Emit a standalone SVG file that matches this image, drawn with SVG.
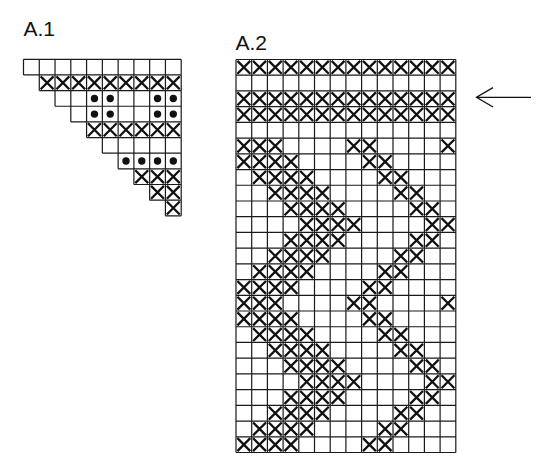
<svg xmlns="http://www.w3.org/2000/svg" xmlns:xlink="http://www.w3.org/1999/xlink" width="550" height="473" viewBox="0 0 550 473">
<style>
.lbl{font-family:"Liberation Sans",Arial,sans-serif;font-size:21px;fill:#111}
.grid{fill:none;stroke:#1a1a1a;stroke-width:1.2}
.xm{fill:none;stroke:#111;stroke-width:2.3}
.dot{fill:#111}
.arrow{fill:none;stroke:#111;stroke-width:1.3}
</style>
<defs>
<path id="x" class="xm" d="M1.4 1.4L14.3 14.3M14.3 1.4L1.4 14.3"/>
<g id="xrow">
<use xlink:href="#x" x="0"/><use xlink:href="#x" x="15.7"/><use xlink:href="#x" x="31.4"/><use xlink:href="#x" x="47.1"/><use xlink:href="#x" x="62.8"/><use xlink:href="#x" x="78.5"/><use xlink:href="#x" x="94.2"/><use xlink:href="#x" x="109.9"/><use xlink:href="#x" x="125.6"/><use xlink:href="#x" x="141.3"/><use xlink:href="#x" x="157"/><use xlink:href="#x" x="172.7"/><use xlink:href="#x" x="188.4"/><use xlink:href="#x" x="204.1"/>
</g>
<g id="p">
<use xlink:href="#x" x="0"/><use xlink:href="#x" x="15.7"/><use xlink:href="#x" x="31.4"/><use xlink:href="#x" x="47.1"/><use xlink:href="#x" x="125.6"/><use xlink:href="#x" x="141.3"/>
</g>
</defs>
<rect width="550" height="473" fill="#fff"/>

<g id="a1">
<text class="lbl" x="23.5" y="36">A.1</text>
<path class="grid" d="M23.5 59.3H181.2M23.5 74.95H181.2M39.27 90.6H181.2M55.04 106.25H181.2M70.81 121.9H181.2M86.58 137.55H181.2M102.35 153.2H181.2M118.12 168.85H181.2M133.89 184.5H181.2M149.66 200.15H181.2M165.43 215.8H181.2
M23.5 59.3V74.95M39.27 59.3V90.6M55.04 59.3V106.25M70.81 59.3V121.9M86.58 59.3V137.55M102.35 59.3V153.2M118.12 59.3V168.85M133.89 59.3V184.5M149.66 59.3V200.15M165.43 59.3V215.8M181.2 59.3V215.8"/>
<g id="a1-x">
<use xlink:href="#x" x="39.27" y="74.95"/><use xlink:href="#x" x="55.04" y="74.95"/><use xlink:href="#x" x="70.81" y="74.95"/><use xlink:href="#x" x="86.58" y="74.95"/><use xlink:href="#x" x="102.35" y="74.95"/><use xlink:href="#x" x="118.12" y="74.95"/><use xlink:href="#x" x="133.89" y="74.95"/><use xlink:href="#x" x="149.66" y="74.95"/><use xlink:href="#x" x="165.43" y="74.95"/>
<use xlink:href="#x" x="86.58" y="121.9"/><use xlink:href="#x" x="102.35" y="121.9"/><use xlink:href="#x" x="118.12" y="121.9"/><use xlink:href="#x" x="133.89" y="121.9"/><use xlink:href="#x" x="149.66" y="121.9"/><use xlink:href="#x" x="165.43" y="121.9"/>
<use xlink:href="#x" x="133.89" y="168.85"/><use xlink:href="#x" x="149.66" y="168.85"/><use xlink:href="#x" x="165.43" y="168.85"/>
<use xlink:href="#x" x="149.66" y="184.5"/><use xlink:href="#x" x="165.43" y="184.5"/>
<use xlink:href="#x" x="165.43" y="200.15"/>
</g>
<g id="a1-dots">
<circle class="dot" cx="94.46" cy="98.43" r="3.7"/><circle class="dot" cx="110.23" cy="98.43" r="3.7"/><circle class="dot" cx="157.54" cy="98.43" r="3.7"/><circle class="dot" cx="173.31" cy="98.43" r="3.7"/>
<circle class="dot" cx="94.46" cy="114.08" r="3.7"/><circle class="dot" cx="110.23" cy="114.08" r="3.7"/><circle class="dot" cx="157.54" cy="114.08" r="3.7"/><circle class="dot" cx="173.31" cy="114.08" r="3.7"/>
<circle class="dot" cx="126" cy="161.03" r="3.7"/><circle class="dot" cx="141.77" cy="161.03" r="3.7"/><circle class="dot" cx="157.54" cy="161.03" r="3.7"/><circle class="dot" cx="173.31" cy="161.03" r="3.7"/>
</g>
</g>

<g id="a2">
<text class="lbl" x="235.5" y="49.5">A.2</text>
<path class="grid" d="M236 59.5V452.5M251.7 59.5V452.5M267.4 59.5V452.5M283.1 59.5V452.5M298.8 59.5V452.5M314.5 59.5V452.5M330.2 59.5V452.5M345.9 59.5V452.5M361.6 59.5V452.5M377.3 59.5V452.5M393 59.5V452.5M408.7 59.5V452.5M424.4 59.5V452.5M440.1 59.5V452.5M455.8 59.5V452.5
M236 59.5H455.8M236 75.22H455.8M236 90.94H455.8M236 106.66H455.8M236 122.38H455.8M236 138.1H455.8M236 153.82H455.8M236 169.54H455.8M236 185.26H455.8M236 200.98H455.8M236 216.7H455.8M236 232.42H455.8M236 248.14H455.8M236 263.86H455.8M236 279.58H455.8M236 295.3H455.8M236 311.02H455.8M236 326.74H455.8M236 342.46H455.8M236 358.18H455.8M236 373.9H455.8M236 389.62H455.8M236 405.34H455.8M236 421.06H455.8M236 436.78H455.8M236 452.5H455.8"/>
<g id="a2-x">
<use xlink:href="#xrow" x="236" y="59.5"/>
<use xlink:href="#xrow" x="236" y="90.94"/>
<use xlink:href="#xrow" x="236" y="106.66"/>
<use xlink:href="#x" x="236" y="138.1"/><use xlink:href="#x" x="251.7" y="138.1"/><use xlink:href="#x" x="267.4" y="138.1"/><use xlink:href="#x" x="345.9" y="138.1"/><use xlink:href="#x" x="361.6" y="138.1"/><use xlink:href="#x" x="440.1" y="138.1"/>
<use xlink:href="#p" x="236" y="153.82"/>
<use xlink:href="#p" x="251.7" y="169.54"/>
<use xlink:href="#p" x="267.4" y="185.26"/>
<use xlink:href="#p" x="283.1" y="200.98"/>
<use xlink:href="#p" x="298.8" y="216.7"/>
<use xlink:href="#p" x="283.1" y="232.42"/>
<use xlink:href="#p" x="267.4" y="248.14"/>
<use xlink:href="#p" x="251.7" y="263.86"/>
<use xlink:href="#p" x="236" y="279.58"/>
<use xlink:href="#x" x="236" y="295.3"/><use xlink:href="#x" x="251.7" y="295.3"/><use xlink:href="#x" x="267.4" y="295.3"/><use xlink:href="#x" x="345.9" y="295.3"/><use xlink:href="#x" x="361.6" y="295.3"/><use xlink:href="#x" x="440.1" y="295.3"/>
<use xlink:href="#p" x="236" y="311.02"/>
<use xlink:href="#p" x="251.7" y="326.74"/>
<use xlink:href="#p" x="267.4" y="342.46"/>
<use xlink:href="#p" x="283.1" y="358.18"/>
<use xlink:href="#p" x="298.8" y="373.9"/>
<use xlink:href="#p" x="283.1" y="389.62"/>
<use xlink:href="#p" x="267.4" y="405.34"/>
<use xlink:href="#p" x="251.7" y="421.06"/>
<use xlink:href="#p" x="236" y="436.78"/>
</g>
</g>

<g id="connectors">
<path class="arrow" d="M531 97.3H476.5M493 87.6L476.5 97.3L493 107"/>
</g>
</svg>
